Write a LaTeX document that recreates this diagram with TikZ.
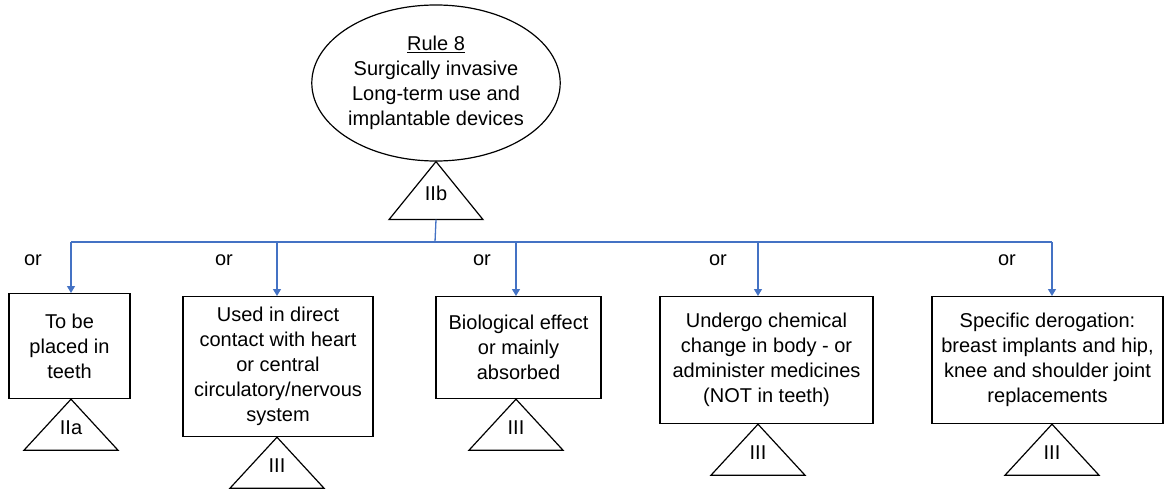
\documentclass[tikz,border=0pt]{standalone}
\usepackage{fontspec}
\setmainfont{Liberation Sans}
\usetikzlibrary{calc}
\usetikzlibrary{shapes}
\usetikzlibrary{arrows.meta}
\definecolor{busblue}{RGB}{68,114,196}
\tikzset{
  box/.style={draw, line width=1.2pt, align=center, inner sep=0pt, anchor=north},
  tri/.style={draw, line width=1.2pt, line join=miter},
  bus/.style={draw=busblue, line width=1.3pt},
  arr/.style={bus, -{Triangle[width=8pt,length=7pt]}},
  orlbl/.style={inner sep=0pt}
}
\newcommand{\classtri}[4]{\draw[tri] (#2) -- ++(-47,-#3) -- ++(94,0) -- cycle;
  \node[inner sep=0pt] (#1) at ($(#2)+(0,-#3/2-3)$) {#4};}

\begin{document}
\begin{tikzpicture}[x=1pt,y=1pt,font=\fontsize{20}{25}\selectfont]
        \useasboundingbox (0,0) rectangle (1165,-489);
        %rule
        \node[draw, ellipse, line width=1.2pt, align=center, inner sep=0pt,
              minimum width=240, minimum height=156] (rule) at (436,-83)
              {\underline{Rule 8}\\Surgically invasive\\Long-term use and\\implantable devices};
        \classtri{IIb}{rule.south}{58}{IIb}
        %boxes
        \node[box, minimum width=121, minimum height=105] (teeth) at (69.5,-293) {To be\\placed in\\teeth};
        \node[box, minimum width=190, minimum height=140] (heart) at (278,-296) {Used in direct\\contact with heart\\or central\\circulatory/nervous\\system};
        \node[box, minimum width=165, minimum height=102] (bio) at (518.5,-296) {Biological effect\\or mainly\\absorbed};
        \node[box, minimum width=213, minimum height=127] (chem) at (766.5,-296) {Undergo chemical\\change in body - or\\administer medicines\\(NOT in teeth)};
        \node[box, minimum width=231, minimum height=127] (derog) at (1047.5,-296) {Specific derogation:\\breast implants and hip,\\knee and shoulder joint\\replacements};
        %bus
        \coordinate (hub) at (435,-242);
        \coordinate (d1) at (71,-242);
        \coordinate (d2) at (277,-242);
        \coordinate (d3) at (516,-242);
        \coordinate (d4) at (758,-242);
        \coordinate (d5) at (1052,-242);
        \draw[bus] ($(rule.south)+(0,-58)$) -- (hub);
        \draw[bus] (d1) -- (d5);
        \draw[arr] (d1) -- (d1 |- teeth.north);
        \draw[arr] (d2) -- (d2 |- heart.north);
        \draw[arr] (d3) -- (d3 |- bio.north);
        \draw[arr] (d4) -- (d4 |- chem.north);
        \draw[arr] (d5) -- (d5 |- derog.north);
        %or labels
        \node[orlbl] (or1) at (33,-260) {or};
        \node[orlbl] (or2) at (224,-260) {or};
        \node[orlbl] (or3) at (482,-260) {or};
        \node[orlbl] (or4) at (718,-260) {or};
        \node[orlbl] (or5) at (1007,-260) {or};
        %classes
        \classtri{IIa}{d1 |- teeth.south}{51}{IIa}
        \classtri{III2}{d2 |- heart.south}{51}{III}
        \classtri{III3}{d3 |- bio.south}{51}{III}
        \classtri{III4}{d4 |- chem.south}{51}{III}
        \classtri{III5}{d5 |- derog.south}{51}{III}
\end{tikzpicture}
\end{document}
